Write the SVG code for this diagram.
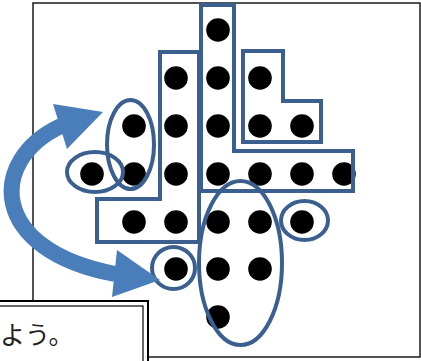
<svg xmlns="http://www.w3.org/2000/svg" width="421" height="361" viewBox="0 0 421 361">
  <style>
    .frame { fill: none; stroke: #1a1a1a; stroke-width: 1.5; }
    .dot { fill: #000; }
    .outline { fill: none; stroke: #3B5F8E; stroke-width: 4; stroke-linejoin: miter; }
    .ring { fill: none; stroke: #3B5F8E; stroke-width: 4; }
    .band { fill: none; stroke: #4A7EBB; stroke-width: 16; }
    .head { fill: #4A7EBB; }
    .note { font-family: "Noto Sans CJK JP", "Noto Sans", sans-serif; font-size: 25px; fill: #222; }
  </style>
  <defs>
    <circle id="d" r="11.8" class="dot"/>
  </defs>

  <!-- outer frame -->
  <rect class="frame" x="33" y="3" width="387" height="354"/>

  <!-- dot pattern: 7 rows, columns 42 apart -->
  <g id="dots">
    <use href="#d" x="218" y="30"/>
    <use href="#d" x="176" y="78"/><use href="#d" x="218" y="78"/><use href="#d" x="260" y="78"/>
    <use href="#d" x="134" y="126"/><use href="#d" x="176" y="126"/><use href="#d" x="218" y="126"/><use href="#d" x="260" y="126"/><use href="#d" x="302" y="126"/>
    <use href="#d" x="92" y="174"/><use href="#d" x="134" y="174"/><use href="#d" x="176" y="174"/><use href="#d" x="218" y="174"/><use href="#d" x="260" y="174"/><use href="#d" x="302" y="174"/><use href="#d" x="344" y="174"/>
    <use href="#d" x="134" y="222"/><use href="#d" x="176" y="222"/><use href="#d" x="218" y="222"/><use href="#d" x="260" y="222"/><use href="#d" x="302" y="222"/>
    <use href="#d" x="176" y="269"/><use href="#d" x="218" y="269"/><use href="#d" x="260" y="269"/>
    <use href="#d" x="218" y="317"/>
  </g>

  <!-- grouping outlines -->
  <g id="shape-center">
    <polygon class="outline" points="201,5 234,5 234,151 353,151 353,191 201,191"/>
  </g>
  <g id="shape-left">
    <polygon class="outline" points="160,52 199,52 199,242 97,242 97,199 160,199"/>
  </g>
  <g id="shape-right">
    <polygon class="outline" points="243,51 283,51 283,101 321,101 321,142 243,142"/>
  </g>

  <g id="ring-left-tall">
    <ellipse class="ring" cx="130.5" cy="144.5" rx="23.5" ry="44.5"/>
  </g>
  <g id="ring-left-small">
    <ellipse class="ring" cx="95" cy="172" rx="28" ry="20"/>
  </g>
  <g id="ring-big">
    <ellipse class="ring" cx="240.5" cy="263" rx="41.5" ry="82"/>
  </g>
  <g id="ring-right-small">
    <ellipse class="ring" cx="304.5" cy="220.5" rx="23.5" ry="19.5"/>
  </g>
  <g id="ring-bottom-small">
    <ellipse class="ring" cx="173.5" cy="268" rx="21.5" ry="21"/>
  </g>

  <!-- curved double-headed arrow -->
  <g id="connectors">
    <path class="band" d="M 61 126 C -12 160, -12 250, 115 274"/>
    <polygon class="head" points="53,104 103,112 67,149"/>
    <polygon class="head" points="117,250 160,280 112,297"/>
  </g>

  <!-- caption box -->
  <g id="caption">
    <rect x="-10" y="301" width="158" height="70" fill="#fff" stroke="#000" stroke-width="2"/>
    <rect x="-10" y="306" width="153" height="65" fill="none" stroke="#000" stroke-width="1.2"/>
    <text class="note" x="0" y="344">よう。</text>
  </g>
</svg>
